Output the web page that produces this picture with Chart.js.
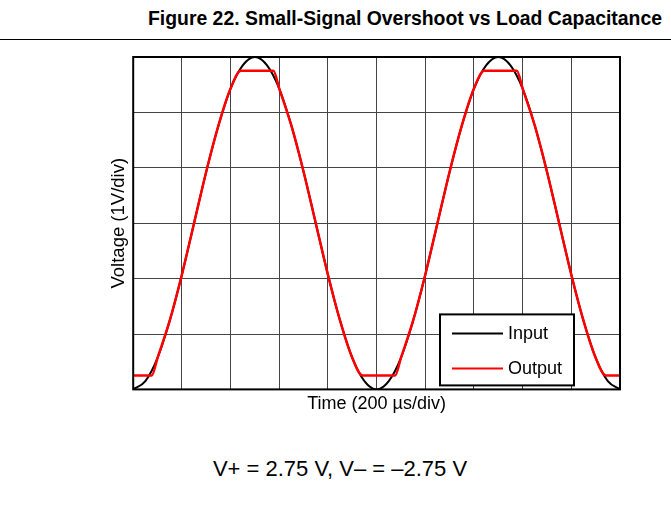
<!DOCTYPE html>
<html>
<head>
<meta charset="utf-8">
<script src="https://cdn.jsdelivr.net/npm/chart.js@4.4.1/dist/chart.umd.min.js"></script>
<style>
  body { margin: 0; background: #fff; width: 671px; height: 523px; position: relative; overflow: hidden;
         font-family: "Liberation Sans", Arial, sans-serif; }
  #title { position: absolute; right: 9px; top: 9px; font-weight: bold; font-size: 19.4px; line-height: 19px; color: #000; white-space: nowrap; }
  #rule { position: absolute; left: 0; top: 39px; width: 671px; border-top: 1px solid #000; }
  #wrap { position: absolute; left: 0; top: 40px; width: 671px; height: 390px; }
  #note { position: absolute; left: 0; width: 680px; top: 458px; text-align: center; font-size: 22px; line-height: 22px; color: #000; }
</style>
</head>
<body>
<div id="title">Figure 22. Small-Signal Overshoot vs Load Capacitance</div>
<div id="rule"></div>
<div id="wrap"><canvas id="chart"></canvas></div>
<div id="note">V+ = 2.75 V, V&#8211; = &#8211;2.75 V</div>
<script>
// time in divisions (200 µs/div), voltage in divisions (1 V/div)
const inputTime = [0, 0.25, 0.5, 0.75, 1, 1.25, 1.5, 1.75, 2, 2.25, 2.5, 2.75, 3, 3.25, 3.5, 3.75, 4, 4.25, 4.5, 4.75, 5,
                   5.25, 5.5, 5.75, 6, 6.25, 6.5, 6.75, 7, 7.25, 7.5, 7.75, 8, 8.25, 8.5, 8.75, 9, 9.25, 9.5, 9.75, 10];
const inputVolts = [-3, -2.85, -2.43, -1.76, -0.93, 0, 0.93, 1.76, 2.43, 2.85, 3, 2.85, 2.43, 1.76, 0.93, 0, -0.93, -1.76, -2.43, -2.85, -3,
                    -2.85, -2.43, -1.76, -0.93, 0, 0.93, 1.76, 2.43, 2.85, 3, 2.85, 2.43, 1.76, 0.93, 0, -0.93, -1.76, -2.43, -2.85, -3];

// output follows the input and flattens at the ±2.75 V rails
const outputTime = [0, 0.38, 0.5, 0.75, 1, 1.25, 1.5, 1.75, 2, 2.21, 2.88, 3, 3.25, 3.5, 3.75, 4, 4.25, 4.5, 4.71, 5.38,
                    5.5, 5.75, 6, 6.25, 6.5, 6.75, 7, 7.21, 7.88, 8, 8.25, 8.5, 8.75, 9, 9.25, 9.5, 9.71, 10];
const outputVolts = [-2.75, -2.75, -2.43, -1.76, -0.93, 0, 0.93, 1.76, 2.43, 2.75, 2.75, 2.43, 1.76, 0.93, 0, -0.93, -1.76, -2.43, -2.75, -2.75,
                     -2.43, -1.76, -0.93, 0, 0.93, 1.76, 2.43, 2.75, 2.75, 2.43, 1.76, 0.93, 0, -0.93, -1.76, -2.43, -2.75, -2.75];

const seriesLabels = ['Input', 'Output'];
const seriesColors = ['#000000', '#ff0000'];

const toPoints = (xs, ys) => xs.map((x, i) => ({ x: x, y: ys[i] }));

const FONT = '"Liberation Sans", Arial, sans-serif';

// frame round the plot area and the boxed legend in the lower right
const scopeFrame = {
  id: 'scopeFrame',
  afterDraw(chart) {
    const { ctx, chartArea: a } = chart;
    ctx.save();
    ctx.strokeStyle = '#000';
    ctx.lineWidth = 2;
    ctx.strokeRect(a.left, a.top, a.right - a.left, a.bottom - a.top);

    const w = 134, h = 71;
    const bx = a.right - 46 - w, by = a.bottom - 4 - h;
    ctx.fillStyle = '#fff';
    ctx.fillRect(bx, by, w, h);
    ctx.strokeRect(bx, by, w, h);
    ctx.font = '18px ' + FONT;
    ctx.textBaseline = 'middle';
    chart.data.datasets.forEach((ds, i) => {
      const y = by + 19 + i * 35;
      ctx.strokeStyle = ds.borderColor;
      ctx.lineWidth = 2;
      ctx.beginPath();
      ctx.moveTo(bx + 12, y);
      ctx.lineTo(bx + 63, y);
      ctx.stroke();
      ctx.fillStyle = '#000';
      ctx.fillText(ds.label, bx + 68, y + 1);
    });
    ctx.restore();
  }
};

new Chart(document.getElementById('chart'), {
  type: 'line',
  data: {
    datasets: [
      {
        label: seriesLabels[0],
        data: toPoints(inputTime, inputVolts),
        borderColor: seriesColors[0],
        borderWidth: 2,
        pointRadius: 0,
        cubicInterpolationMode: 'monotone',
        order: 1
      },
      {
        label: seriesLabels[1],
        data: toPoints(outputTime, outputVolts),
        borderColor: seriesColors[1],
        borderWidth: 2.5,
        pointRadius: 0,
        cubicInterpolationMode: 'monotone',
        order: 0
      }
    ]
  },
  options: {
    responsive: true,
    maintainAspectRatio: false,
    animation: false,
    layout: { padding: { left: 103, right: 51, top: 17, bottom: 15 } },
    plugins: {
      legend: { display: false },
      tooltip: { enabled: false }
    },
    scales: {
      x: {
        type: 'linear',
        min: 0,
        max: 10,
        ticks: { display: false, stepSize: 1 },
        grid: { color: '#444', lineWidth: 1, drawTicks: false },
        border: { display: false },
        title: { display: true, text: 'Time (200 µs/div)', color: '#000', font: { family: FONT, size: 18 }, padding: { top: 4, bottom: 0 } }
      },
      y: {
        min: -3,
        max: 3,
        ticks: { display: false, stepSize: 1 },
        grid: { color: '#444', lineWidth: 1, drawTicks: false },
        border: { display: false },
        title: { display: true, text: 'Voltage (1V/div)', color: '#000', font: { family: FONT, size: 18.5 }, padding: { top: 5, bottom: 3 } }
      }
    }
  },
  plugins: [scopeFrame]
});
</script>
</body>
</html>
